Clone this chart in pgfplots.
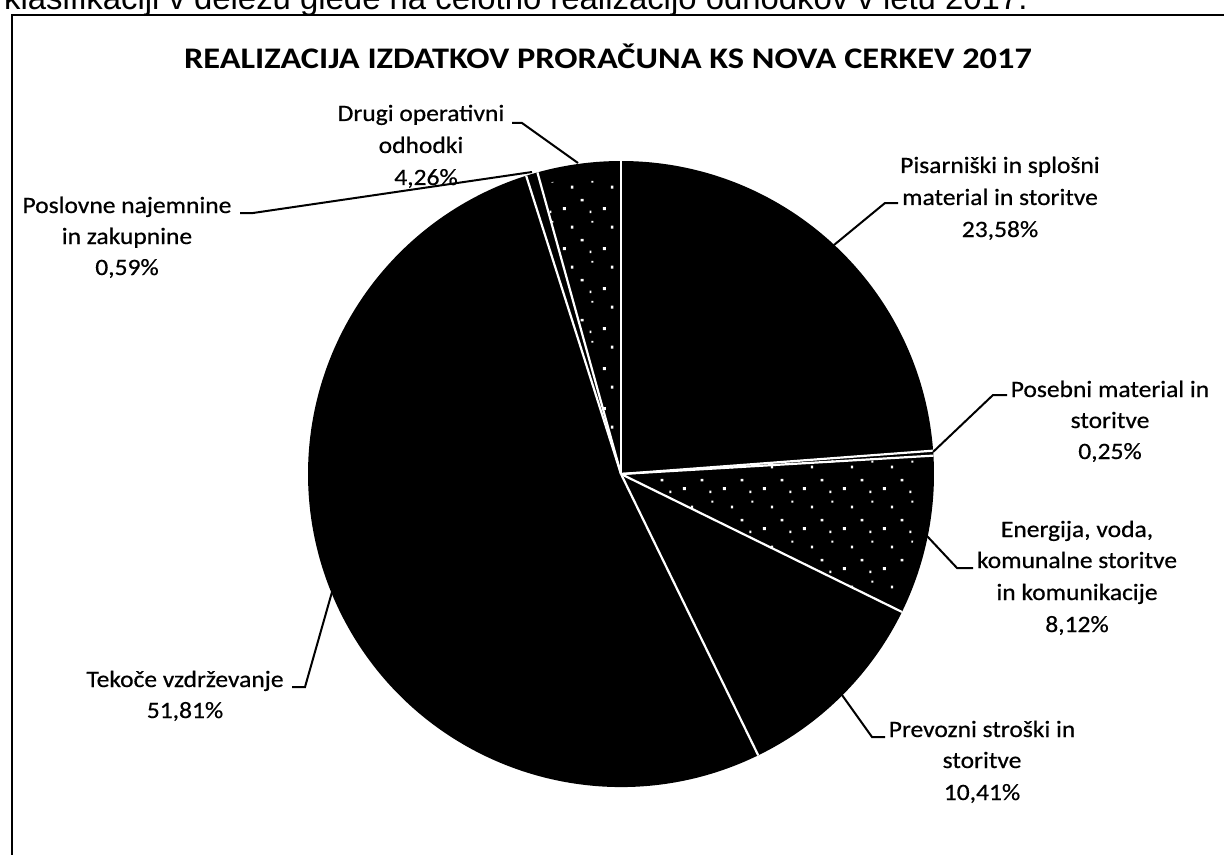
\documentclass[border=0pt]{standalone}
\usepackage{pgfplots}
\pgfplotsset{compat=1.18}
\usepackage{pgfplotstable}
\usepackage{fontspec}
\setmainfont{Carlito}
\newfontfamily\lbfam{Carlito}[FakeStretch=1.09,FakeBold=0.6]
\newfontfamily\ttlfam{Carlito Bold}[FakeStretch=1.15]
\newfontfamily\arialfont{Liberation Sans}
\usetikzlibrary{patterns}

\pgfdeclarepatternformonly{specks}{\pgfpoint{0bp}{0bp}}{\pgfpoint{40bp}{40bp}}{\pgfpoint{40bp}{40bp}}{%
 \pgfpathrectangle{\pgfpoint{3bp}{5bp}}{\pgfpoint{3bp}{3bp}}%
 \pgfpathrectangle{\pgfpoint{21bp}{14bp}}{\pgfpoint{3bp}{2.5bp}}%
 \pgfpathrectangle{\pgfpoint{11bp}{27bp}}{\pgfpoint{2.5bp}{3bp}}%
 \pgfpathrectangle{\pgfpoint{32bp}{33bp}}{\pgfpoint{2bp}{2bp}}%
 \pgfpathrectangle{\pgfpoint{30bp}{2bp}}{\pgfpoint{2bp}{2.5bp}}%
 \pgfusepath{fill}}

\pgfplotstableread{
label value
Pisarniski 23.58
Posebni 0.25
Energija 8.12
Prevozni 10.41
Tekoce 51.81
Poslovne 0.59
Drugi 4.26
}\piedata

\newcommand\lbfont{\lbfam\fontsize{23.5}{30}\selectfont}
\newcommand\lb[3]{\node[anchor=base,inner sep=0pt,font=\lbfont] at (axis cs:#1,#2) {#3};}

\begin{document}
\begin{tikzpicture}
% cumulative angles (clockwise from 12 o'clock), normalised to the total
\pgfmathsetmacro\total{0}
\pgfplotsforeachungrouped \i in {0,...,6}{%
  \pgfplotstablegetelem{\i}{value}\of\piedata
  \pgfmathsetmacro\total{\total+\pgfplotsretval}%
}
\pgfmathsetmacro\cur{90}
\pgfplotsforeachungrouped \i in {0,...,6}{%
  \pgfplotstablegetelem{\i}{value}\of\piedata
  \expandafter\xdef\csname aS\i\endcsname{\cur}%
  \pgfmathsetmacro\cur{\cur-\pgfplotsretval/\total*360}%
  \expandafter\xdef\csname aE\i\endcsname{\cur}%
}
\begin{axis}[width=1224bp,height=855bp,scale only axis,
  xmin=0,xmax=1224,ymin=0,ymax=855,y dir=reverse,
  hide axis,clip=false]
% wedges
\pgfplotsforeachungrouped \i in {0,...,6}{%
  \edef\tmp{\noexpand\fill[black] (axis cs:621,474) -- ++(\csname aS\i\endcsname:313bp)
    arc[start angle=\csname aS\i\endcsname, end angle=\csname aE\i\endcsname, radius=313bp] -- cycle;}%
  \tmp
}
% speckled slices
\pgfplotsforeachungrouped \i in {1,2,6}{%
  \edef\tmp{\noexpand\fill[pattern=specks,pattern color=white] (axis cs:621,474) -- ++(\csname aS\i\endcsname:300bp)
    arc[start angle=\csname aS\i\endcsname, end angle=\csname aE\i\endcsname, radius=300bp] -- cycle;}%
  \tmp
}
% white separators
\pgfplotsforeachungrouped \i in {0,...,6}{%
  \edef\tmp{\noexpand\draw[white,line width=2.2bp] (axis cs:621,474) -- ++(\csname aS\i\endcsname:313bp);}%
  \tmp
}
% frame
\draw[line width=2.5bp] (axis cs:12,855) -- (axis cs:12,15) -- (axis cs:1224,15);
% text above the frame
\node[anchor=base west,inner sep=0pt,font=\arialfont\fontsize{33}{36}\selectfont] at (axis cs:4,10)
  {klasifikaciji v deležu glede na celotno realizacijo odhodkov v letu 2017.};
% title
\node[anchor=base,inner sep=0pt,font=\ttlfam\fontsize{30}{36}\selectfont] at (axis cs:608,69)
  {REALIZACIJA IZDATKOV PRORAČUNA KS NOVA CERKEV 2017};
% leader lines
\draw[line width=2bp] (axis cs:512,123) -- (axis cs:522,123) -- (axis cs:578,163);
\draw[line width=2bp] (axis cs:898,203) -- (axis cs:885,203) -- (axis cs:834,245);
\draw[line width=2bp] (axis cs:240,213) -- (axis cs:253,213) -- (axis cs:532,172);
\draw[line width=2bp] (axis cs:1007,395) -- (axis cs:993,395) -- (axis cs:933,452);
\draw[line width=2bp] (axis cs:973,568) -- (axis cs:957,568) -- (axis cs:927,536);
\draw[line width=2bp] (axis cs:292,687) -- (axis cs:305,687) -- (axis cs:332,592);
\draw[line width=2bp] (axis cs:885,737) -- (axis cs:872,737) -- (axis cs:842,695);
% labels
\lb{421}{121}{Drugi operativni}
\lb{421}{153}{odhodki}
\lb{426}{185}{4,26\%}
\lb{1000}{173}{Pisarniški in splošni}
\lb{1000}{205}{material in storitve}
\lb{1000}{237}{23,58\%}
\lb{127}{213}{Poslovne najemnine}
\lb{127}{244}{in zakupnine}
\lb{127}{275}{0,59\%}
\lb{1110}{397}{Posebni material in}
\lb{1110}{428}{storitve}
\lb{1110}{459}{0,25\%}
\lb{1077}{537}{Energija, voda,}
\lb{1077}{568}{komunalne storitve}
\lb{1077}{600}{in komunikacije}
\lb{1077}{632}{8,12\%}
\lb{185}{687}{Tekoče vzdrževanje}
\lb{185}{718}{51,81\%}
\lb{982}{737}{Prevozni stroški in}
\lb{982}{768}{storitve}
\lb{982}{800}{10,41\%}
\end{axis}
\pgfresetboundingbox
\path[use as bounding box] (current axis.south west) rectangle (current axis.north east);
\end{tikzpicture}
\end{document}
